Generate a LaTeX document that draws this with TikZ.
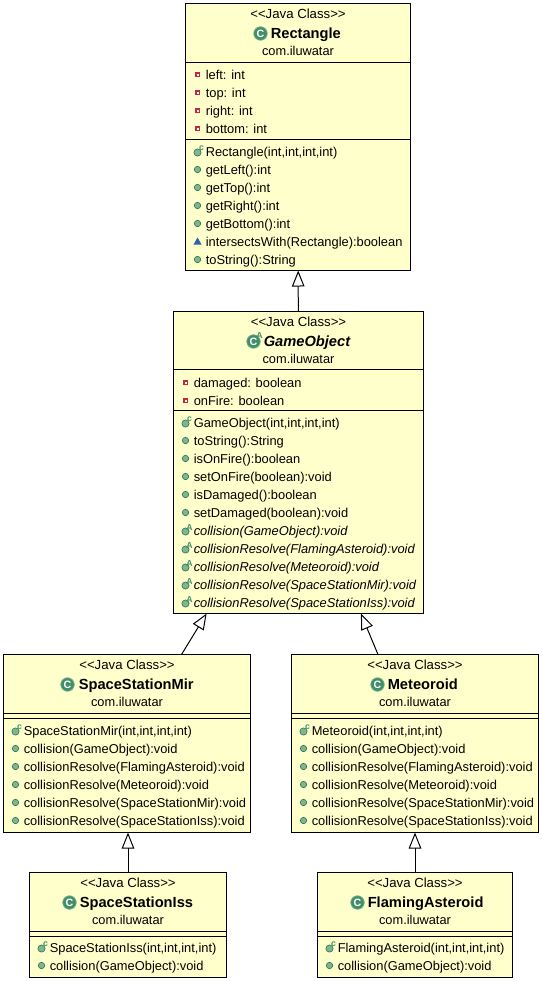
\documentclass[tikz,border=0pt]{standalone}
\usepackage{fontspec}
\setmainfont{Liberation Sans}
\usetikzlibrary{arrows.meta}
\definecolor{clsfill}{HTML}{FFFFCC}
\definecolor{icongreen}{HTML}{7FB58F}
\definecolor{iconedge}{HTML}{2F7A55}
\definecolor{classgreen}{HTML}{3F8F6A}
\definecolor{privred}{HTML}{C2273D}
\definecolor{pkgblue}{HTML}{2F62A8}
\newcounter{rown}
\tikzset{
  x=0.75pt,y=-0.75pt,
  clsbox/.style={draw=black,fill=clsfill,line width=0.75pt,inner sep=0pt,outer sep=0pt},
  sepline/.style={black,line width=0.75pt},
  rowtext/.style={anchor=base west,inner sep=0pt,font=\fontsize{9.65}{11}\selectfont},
  stereo/.style={anchor=base,inner sep=0pt,font=\fontsize{9.9}{11}\selectfont},
  pkgtext/.style={anchor=base,inner sep=0pt,font=\fontsize{9.6}{11}\selectfont},
  titletext/.style={anchor=base west,inner sep=0pt,font=\fontsize{11}{12}\selectfont\bfseries},
  classletter/.style={inner sep=0pt,text=white,font=\fontsize{8}{8}\selectfont\bfseries},
  classdisc/.style={fill=classgreen,draw=icongreen,line width=0.5pt},
  gen/.style={line width=0.75pt,-{Triangle[open,fill=white,length=12pt,width=9.4pt]}},
  pubdot/.style={fill=icongreen,draw=iconedge,line width=0.5pt},
  sup/.style={inner sep=0pt,text=classgreen,font=\fontsize{6.5}{6}\selectfont\bfseries},
}
% class box: name, x1, y1, x2, y2, sep1, sep2
\newcommand{\classbox}[7]{%
  \pgfmathsetmacro{\cw}{(#4-#2)*0.75}\pgfmathsetmacro{\ch}{(#5-#3)*0.75}%
  \node[clsbox,minimum width=\cw pt,minimum height=\ch pt] (#1) at ({(#2+#4)/2},{(#3+#5)/2}) {};
  \draw[sepline] (#2,#6) -- (#4,#6);
  \draw[sepline] (#2,#7) -- (#4,#7);
}
% head: name, center x, y of first row, icon x, text x, title
\newcommand{\headrows}[6]{%
  \node[stereo] (#1s) at (#2,{#3+4}) {<{}<Java Class>{}>};
  \node[pkgtext] (#1p) at (#2,{#3+41}) {com.iluwatar};
  \filldraw[classdisc] (#4,{#3+19}) circle [radius=6.8];
  \node[classletter] (#1c) at (#4,{#3+19}) {C};
  \node[titletext] (#1t) at (#5,{#3+24}) {#6};
}
\newcommand{\rowtxt}[3]{\stepcounter{rown}\node[rowtext] (row\therown) at (#1,{#2+4.6}) {#3};}
\newcommand{\ifld}[3]{% field
  \fill[privred] ({#1-2.5},{#2-2.5}) rectangle ({#1+2.5},{#2+2.5});
  \fill[white] ({#1-1},{#2-1}) rectangle ({#1+1},{#2+1});
  \rowtxt{#1+8}{#2}{#3}}
\newcommand{\ipub}[3]{\filldraw[pubdot] (#1,#2) circle [radius=3.2];\rowtxt{#1+8}{#2}{#3}}
\newcommand{\ipkg}[3]{\fill[pkgblue] ({#1-4},{#2+3}) -- ({#1+4},{#2+3}) -- (#1,{#2-4}) -- cycle;\rowtxt{#1+8}{#2}{#3}}
\newcommand{\isup}[4]{\filldraw[pubdot] (#1,{#2+1}) circle [radius=3.6];
  \stepcounter{rown}\node[sup] (sup\therown) at ({#1+4},{#2-3}) {#3};\rowtxt{#1+8}{#2}{#4}}
\newcommand{\ictor}[3]{\isup{#1}{#2}{c}{#3}}
\newcommand{\iabs}[3]{\isup{#1}{#2}{A}{\itshape #3}}
\begin{document}
\begin{tikzpicture}
\useasboundingbox (-0.5,-0.5) rectangle (541.5,980.5);
% Rectangle
\classbox{rect}{185}{3}{410}{270}{62}{139}
\headrows{rect}{297.5}{14}{260}{270}{Rectangle}
\ifld{197}{74}{left: int}
\ifld{197}{92}{top: int}
\ifld{197}{110}{right: int}
\ifld{197}{128}{bottom: int}
\ictor{197}{151}{Rectangle(int,int,int,int)}
\ipub{197}{169}{getLeft():int}
\ipub{197}{187}{getTop():int}
\ipub{197}{205}{getRight():int}
\ipub{197}{223}{getBottom():int}
\ipkg{197}{241}{intersectsWith(Rectangle):boolean}
\ipub{197}{259}{toString():String}
% GameObject
\classbox{game}{173}{311}{423}{613}{369}{410}
\headrows{game}{298}{322}{253}{263}{\itshape GameObject}
\node[sup] (gameA) at (259,335) {A};
\ifld{185}{382}{damaged: boolean}
\ifld{185}{400}{onFire: boolean}
\ictor{185}{422}{GameObject(int,int,int,int)}
\ipub{185}{440}{toString():String}
\ipub{185}{458}{isOnFire():boolean}
\ipub{185}{476}{setOnFire(boolean):void}
\ipub{185}{494}{isDamaged():boolean}
\ipub{185}{512}{setDamaged(boolean):void}
\iabs{185}{530}{collision(GameObject):void}
\iabs{185}{548}{collisionResolve(FlamingAsteroid):void}
\iabs{185}{566}{collisionResolve(Meteoroid):void}
\iabs{185}{584}{collisionResolve(SpaceStationMir):void}
\iabs{185}{602}{collisionResolve(SpaceStationIss):void}
% SpaceStationMir
\classbox{mir}{3}{654}{250}{832}{713}{718}
\headrows{mir}{126.5}{665}{67}{78}{SpaceStationMir}
\ictor{15}{730}{SpaceStationMir(int,int,int,int)}
\ipub{15}{748}{collision(GameObject):void}
\ipub{15}{766}{collisionResolve(FlamingAsteroid):void}
\ipub{15}{784}{collisionResolve(Meteoroid):void}
\ipub{15}{802}{collisionResolve(SpaceStationMir):void}
\ipub{15}{820}{collisionResolve(SpaceStationIss):void}
% Meteoroid
\classbox{met}{291}{654}{538}{832}{713}{718}
\headrows{met}{414.5}{665}{377}{387}{Meteoroid}
\ictor{303}{730}{Meteoroid(int,int,int,int)}
\ipub{303}{748}{collision(GameObject):void}
\ipub{303}{766}{collisionResolve(FlamingAsteroid):void}
\ipub{303}{784}{collisionResolve(Meteoroid):void}
\ipub{303}{802}{collisionResolve(SpaceStationMir):void}
\ipub{303}{820}{collisionResolve(SpaceStationIss):void}
% SpaceStationIss
\classbox{iss}{29}{872}{226}{977}{931}{936}
\headrows{iss}{127.5}{883}{69}{79}{SpaceStationIss}
\ictor{41}{947}{SpaceStationIss(int,int,int,int)}
\ipub{41}{965}{collision(GameObject):void}
% FlamingAsteroid
\classbox{flam}{317}{872}{512}{977}{931}{936}
\headrows{flam}{414.5}{883}{357}{367}{FlamingAsteroid}
\ictor{329}{947}{FlamingAsteroid(int,int,int,int)}
\ipub{329}{965}{collision(GameObject):void}
% generalisation arrows
\draw[gen] (game) -- (rect);
\draw[gen] (mir) -- (game);
\draw[gen] (met) -- (game);
\draw[gen] (iss.north) -- (mir.south -| iss.north);
\draw[gen] (flam.north) -- (met.south -| flam.north);
\end{tikzpicture}
\end{document}
